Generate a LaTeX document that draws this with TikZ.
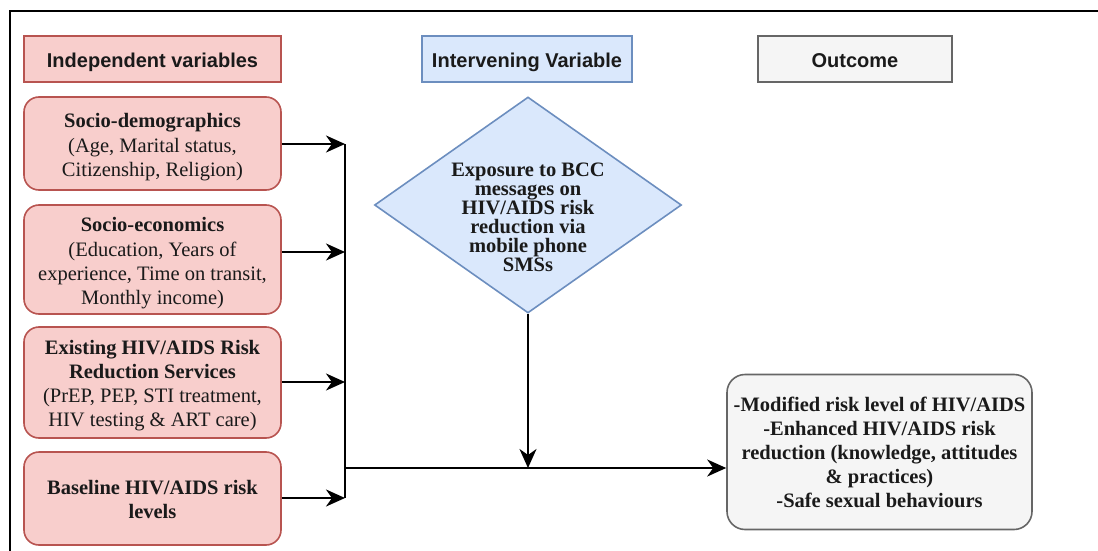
\documentclass[tikz,border=0pt]{standalone}
\usepackage{fontspec}
\setmainfont{Liberation Serif}
\newfontfamily\hsans{Liberation Sans}
\usetikzlibrary{shapes.geometric,arrows.meta}
\definecolor{pinkfill}{HTML}{F8CECC}
\definecolor{pinkline}{HTML}{B85450}
\definecolor{bluefill}{HTML}{DAE8FC}
\definecolor{blueline}{HTML}{6C8EBF}
\definecolor{grayfill}{HTML}{F5F5F5}
\definecolor{grayline}{HTML}{666666}
\definecolor{txt}{HTML}{1A1A1A}
\newcommand{\boxlines}[1]{\raisebox{-3.5pt}[\height][\depth]{\begin{tabular}{@{}c@{}}#1\end{tabular}}}
\begin{document}
\begin{tikzpicture}[x=1pt,y=-1pt,
  header/.style={draw, line width=1.6pt, minimum height=46pt, inner sep=0pt, text=txt,
    text height=19pt, text depth=3pt,
    font=\hsans\bfseries\fontsize{20}{24}\selectfont},
  indephead/.style={header, fill=pinkfill, draw=pinkline, minimum width=257pt},
  interhead/.style={header, fill=bluefill, draw=blueline, minimum width=210pt},
  outhead/.style={header, fill=grayfill, draw=grayline, minimum width=194pt},
  varbox/.style={draw=pinkline, fill=pinkfill, line width=1.6pt, rounded corners=15pt,
    minimum width=257pt, align=center, inner sep=0pt, text=txt,
    font=\fontsize{20.5}{24}\selectfont},
  diabox/.style={diamond, draw=blueline, fill=bluefill, line width=1.6pt, aspect=1.42,
    minimum width=307pt, minimum height=216pt, inner sep=0pt},
  diatext/.style={align=center, inner sep=0pt, text=txt,
    font=\bfseries\fontsize{20.5}{19}\selectfont},
  outbox/.style={draw=grayline, fill=grayfill, line width=1.6pt, rounded corners=18pt,
    minimum width=305pt, minimum height=155pt, align=center, inner sep=0pt, text=txt,
    font=\bfseries\fontsize{20.5}{24}\selectfont},
  arr/.style={-{Stealth[length=19pt,width=17pt,inset=6pt]}, line width=2.3pt},
  conn/.style={line width=2.3pt},
  frame/.style={line width=2pt}
]
\useasboundingbox (0,0) rectangle (1098,551);
% frame (top and left edges)
\draw[frame] (1098,11) -- (10,11) -- (10,551);

% headers
\node[indephead] (ih) at (152.5,59) {Independent variables};
\node[interhead] (vh) at (527,59) {Intervening Variable};
\node[outhead] (oh) at (855,59) {Outcome};

% independent variable boxes
\node[varbox, minimum height=93pt] (sd) at (152.5,143.5)
  {\boxlines{\textbf{Socio-demographics}\\[1pt](Age, Marital status,\\Citizenship, Religion)}};
\node[varbox, minimum height=109pt] (se) at (152.5,259.5)
  {\boxlines{\textbf{Socio-economics}\\[1pt](Education, Years of\\experience, Time on transit,\\Monthly income)}};
\node[varbox, minimum height=111pt] (ex) at (152.5,382.5)
  {\boxlines{\textbf{Existing HIV/AIDS Risk}\\\textbf{Reduction Services}\\(PrEP, PEP, STI treatment,\\HIV testing \& ART care)}};
\node[varbox, minimum height=93pt] (bl) at (152.5,498.5)
  {\boxlines{\textbf{Baseline HIV/AIDS risk}\\\textbf{levels}}};

% intervening variable diamond
\node[diabox] (dia) at (528,205) {};
\node[diatext] (diat) at (528,217)
  {Exposure to BCC\\messages on\\HIV/AIDS risk\\reduction via\\mobile phone\\SMSs};

% outcome box
\node[outbox] (out) at (879.5,452)
  {-Modified risk level of HIV/AIDS\\-Enhanced HIV/AIDS risk\\reduction (knowledge, attitudes\\\& practices)\\-Safe sexual behaviours};

% bus coordinates
\coordinate (b1) at (345,144);
\coordinate (b2) at (345,252);
\coordinate (b3) at (345,382);
\coordinate (b4) at (345,498);
\coordinate (join) at (345,468);
\coordinate (meet) at (528,468);

% connectors
\draw[conn] (b1) -- (b4);
\draw[arr] (sd.east |- b1) -- (b1);
\draw[arr] (se.east |- b2) -- (b2);
\draw[arr] (ex.east |- b3) -- (b3);
\draw[arr] (bl.east |- b4) -- (b4);
\draw[arr] (join) -- (out.west |- join);
\draw[arr] (dia.south) -- (meet);
\end{tikzpicture}
\end{document}
